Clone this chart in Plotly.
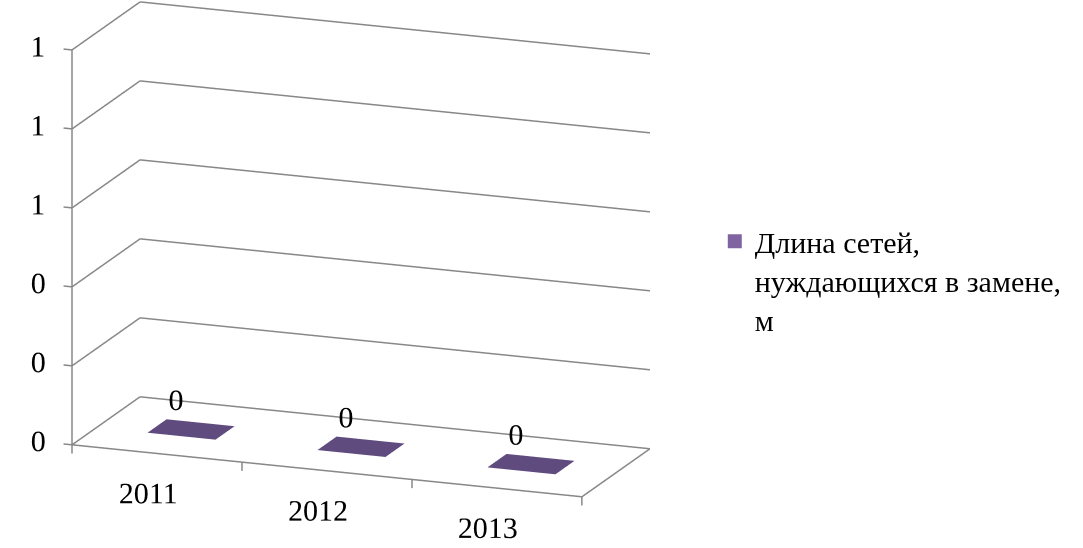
import plotly.graph_objects as go

# Длина сетей, нуждающихся в замене, по годам (м)
years = ["2011", "2012", "2013"]
lengths = [0, 0, 0]
series_name = "Длина сетей,<br>нуждающихся в замене,<br>м"
value_ticks = [0, 0.2, 0.4, 0.6, 0.8, 1.0]

FONT = "Liberation Serif"
BAR_FACE = "#5F4B7E"
BAR_LEGEND = "#8064A2"
GRID = "#888888"

BAR_HALF_WIDTH = 0.2
BAR_DEPTH = (0.36, 0.64)

n = len(years)
X0, X1 = -0.5, n - 0.5          # category extent of the floor
D0, D1 = 0.0, 1.0               # depth extent
V0, V1 = value_ticks[0], value_ticks[-1]

# scene units per data unit along each axis (orthographic zoom is set here)
UNIT = dict(x=0.6636, y=0.699, z=1.496)
XR = [-0.75, X1 + 0.02]
YR = [-0.2, D1 + 0.01]
ZR = [-0.13, V1 + 0.012]

fig = go.Figure()

# Walls: gridlines on back and side walls, floor outline, axis ticks
gx, gy, gz = [], [], []
def seg(p, q):
    gx.extend([p[0], q[0], None]); gy.extend([p[1], q[1], None]); gz.extend([p[2], q[2], None])

for t in value_ticks:
    seg((X0, D1, t), (X1, D1, t))          # back wall
    seg((X0, D0, t), (X0, D1, t))          # side wall
    seg((X0, D0, t), (X0 - 0.05, D0, t))   # value tick mark
seg((X0, D0, V0), (X0, D0, V1))            # value axis edge
seg((X0, D0, V0), (X1, D0, V0))            # floor front edge
seg((X1, D0, V0), (X1, D1, V0))            # floor right edge
for b in range(n + 1):
    seg((X0 + b, D0, V0), (X0 + b, D0, V0 - 0.022))  # category tick marks

fig.add_trace(go.Scatter3d(x=gx, y=gy, z=gz, mode="lines",
                           line=dict(color=GRID, width=3),
                           showlegend=False, hoverinfo="skip"))

# Columns as boxes from the floor up to the value
tri_i = [0, 0, 4, 4, 0, 0, 1, 1, 2, 2, 3, 3]
tri_j = [1, 2, 5, 6, 1, 5, 2, 6, 3, 7, 0, 4]
tri_k = [2, 3, 6, 7, 5, 4, 6, 5, 7, 6, 4, 7]
for idx, v in enumerate(lengths):
    x0, x1 = idx - BAR_HALF_WIDTH, idx + BAR_HALF_WIDTH
    d0, d1 = BAR_DEPTH
    fig.add_trace(go.Mesh3d(
        x=[x0, x1, x1, x0] * 2,
        y=[d0, d0, d1, d1] * 2,
        z=[0] * 4 + [v] * 4,
        i=tri_i, j=tri_j, k=tri_k,
        color=BAR_FACE, flatshading=True,
        lighting=dict(ambient=1, diffuse=0, specular=0, fresnel=0, roughness=1),
        showlegend=False, hoverinfo="skip",
    ))

text_font = dict(family=FONT, size=30, color="black")

# Data labels, just above the column tops
fig.add_trace(go.Scatter3d(
    x=[i - 0.09 for i in range(n)], y=[0.5] * n, z=[v + 0.07 for v in lengths],
    mode="text", text=[f"{v:.0f}" for v in lengths],
    textposition="middle center", textfont=text_font,
    showlegend=False, hoverinfo="skip",
))

# Category labels under the front edge
fig.add_trace(go.Scatter3d(
    x=list(range(n)), y=[-0.135] * n, z=[-0.085] * n,
    mode="text", text=years, textposition="middle center", textfont=text_font,
    showlegend=False, hoverinfo="skip",
))

# Value labels beside the axis edge
fig.add_trace(go.Scatter3d(
    x=[X0 - 0.2] * len(value_ticks), y=[D0] * len(value_ticks), z=value_ticks,
    mode="text", text=[f"{t:.0f}" for t in value_ticks],
    textposition="middle center", textfont=text_font,
    showlegend=False, hoverinfo="skip",
))

# Legend entry (series swatch)
fig.add_trace(go.Scatter(
    x=[None], y=[None], mode="markers",
    marker=dict(symbol="square", size=14, color=BAR_LEGEND),
    name=series_name, showlegend=True,
))

hidden = dict(visible=False, showbackground=False, showspikes=False,
              showgrid=False, zeroline=False, showline=False,
              showticklabels=False, ticks="", title=dict(text=""))

def mid(r):
    return (r[0] + r[1]) / 2

# viewing direction (azimuth ~20.8 deg, elevation ~15.6 deg)
view_dir = (0.342, -0.900, 0.268)
screen_up = (-0.095, 0.251, 0.963)
lift = 0.09   # raise the frame inside the scene viewport
center = dict(x=(1.0 - mid(XR)) * UNIT["x"] - lift * screen_up[0],
              y=(0.5 - mid(YR)) * UNIT["y"] - lift * screen_up[1],
              z=(0.5 - mid(ZR)) * UNIT["z"] - lift * screen_up[2])
r = 2.0
eye = dict(x=center["x"] + view_dir[0] * r,
           y=center["y"] + view_dir[1] * r,
           z=center["z"] + view_dir[2] * r)

fig.update_layout(
    width=1083, height=548,
    margin=dict(l=0, r=0, t=0, b=0),
    paper_bgcolor="white",
    plot_bgcolor="rgba(0,0,0,0)",
    hovermode=False,
    font=dict(family=FONT, size=30, color="black"),
    xaxis=dict(visible=False),
    yaxis=dict(visible=False),
    scene=dict(
        domain=dict(x=[0, 0.667], y=[0, 1]),
        bgcolor="white",
        xaxis=dict(range=XR, **hidden),
        yaxis=dict(range=YR, **hidden),
        zaxis=dict(range=ZR, **hidden),
        aspectmode="manual",
        aspectratio=dict(x=UNIT["x"] * (XR[1] - XR[0]),
                         y=UNIT["y"] * (YR[1] - YR[0]),
                         z=UNIT["z"] * (ZR[1] - ZR[0])),
        camera=dict(center=center, eye=eye,
                    projection=dict(type="orthographic")),
    ),
    legend=dict(x=0.660, y=0.607, xanchor="left", yanchor="top",
                valign="top", font=dict(family=FONT, size=30, color="black"),
                bgcolor="rgba(0,0,0,0)"),
)

fig.write_html("out.html", config=dict(displayModeBar=False))
